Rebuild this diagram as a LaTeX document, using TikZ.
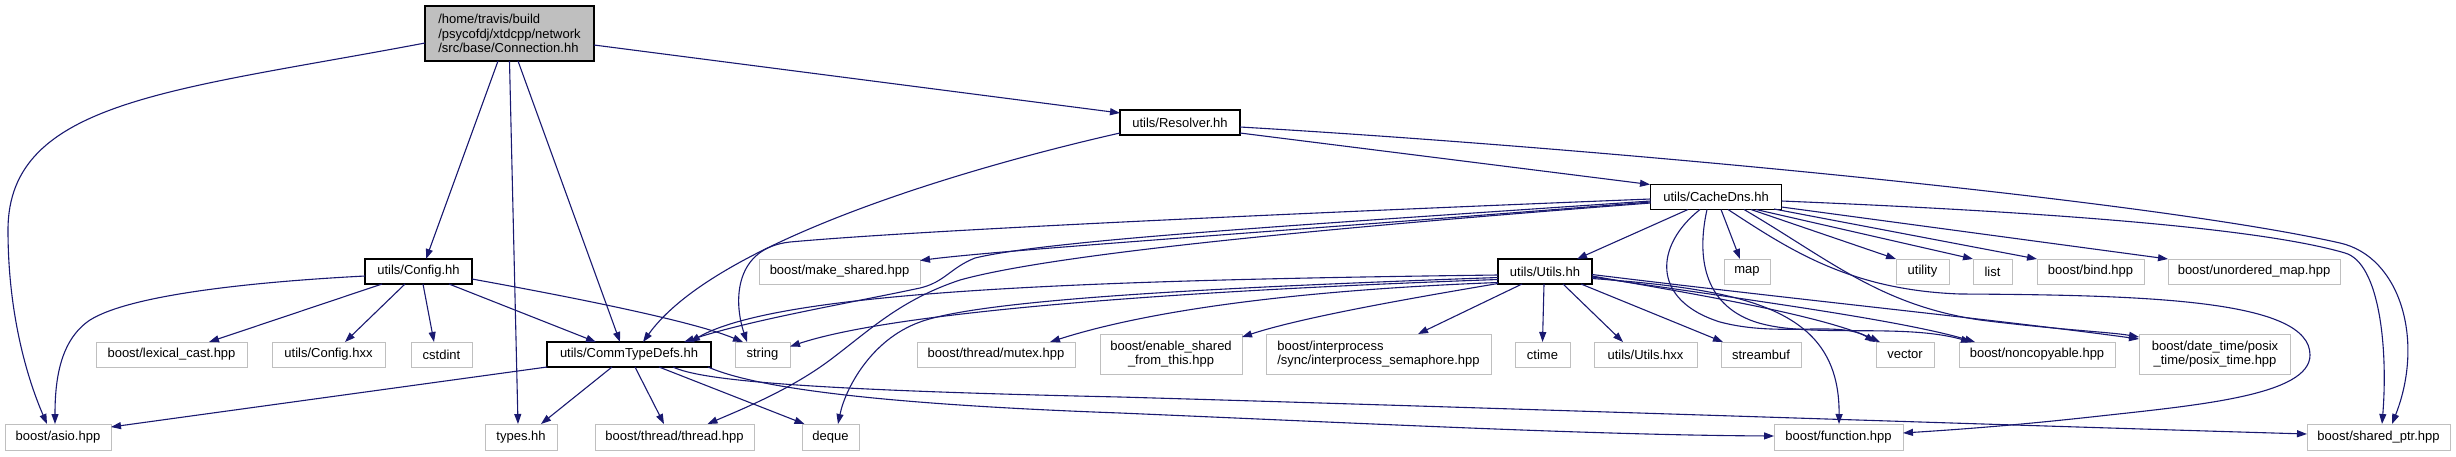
\documentclass[tikz,border=0pt]{standalone}
\usepackage{fontspec}
\setmainfont{Liberation Sans}
\usetikzlibrary{arrows.meta,calc}
\definecolor{edgec}{HTML}{191970}
\definecolor{lgray}{HTML}{BFBFBF}
\begin{document}
\begin{tikzpicture}[x=1pt,y=-1pt,
  box/.style={draw=lgray, line width=1pt, fill=white, inner sep=0pt,
    font=\fontsize{13}{14.5}\selectfont, minimum height=25pt},
  lowbox/.style={box, minimum height=26pt},
  docbox/.style={box, draw=black, line width=1.3pt},
  edge/.style={draw=edgec, line width=1.1pt, -{Triangle[length=10pt,width=7pt]}},
]
\useasboundingbox (0,0) rectangle (2456,456);

% nodes
\node[docbox, fill=lgray, minimum width=169pt, minimum height=55pt, align=left] (main) at (509.5,33.5)
  {/home/travis/build\\/psycofdj/xtdcpp/network\\/src/base/Connection.hh};
\node[docbox, minimum width=120pt] (resolver) at (1180,122.5) {utils/Resolver.hh};
\node[docbox, minimum width=131pt] (cachedns) at (1716,197) {utils/CacheDns.hh};
\node[docbox, minimum width=107pt] (config) at (418.5,271.5) {utils/Config.hh};
\node[box, minimum width=161pt] (makeshared) at (839.5,271.5) {boost/make\_shared.hpp};
\node[docbox, minimum width=94pt] (utils) at (1545,271.5) {utils/Utils.hh};
\node[box, minimum width=46pt] (map) at (1747,271.5) {map};
\node[box, minimum width=53pt] (utility) at (1922.5,271.5) {utility};
\node[box, minimum width=39pt] (list) at (1992.5,271.5) {list};
\node[box, minimum width=107pt] (bind) at (2090.5,271.5) {boost/bind.hpp};
\node[box, minimum width=172pt] (unordered) at (2254,271.5) {boost/unordered\_map.hpp};

\node[box, minimum width=151pt] (lexical) at (171.5,354.5) {boost/lexical\_cast.hpp};
\node[box, minimum width=113pt] (confighxx) at (328.5,354.5) {utils/Config.hxx};
\node[box, minimum width=61pt] (cstdint) at (441.5,354.5) {cstdint};
\node[docbox, minimum width=164pt] (commtype) at (629,354.5) {utils/CommTypeDefs.hh};
\node[box, minimum width=55pt] (string) at (762.5,354.5) {string};
\node[box, minimum width=158pt] (mutex) at (996,354.5) {boost/thread/mutex.hpp};
\node[box, minimum width=142pt, minimum height=40pt, align=center] (enable) at (1171,354)
  {boost/enable\_shared\\\_from\_this.hpp};
\node[box, minimum width=225pt, minimum height=40pt, align=left] (semaphore) at (1378.5,354)
  {boost/interprocess\\/sync/interprocess\_semaphore.hpp};
\node[box, minimum width=55pt] (ctime) at (1542.5,354.5) {ctime};
\node[box, minimum width=103pt] (utilshxx) at (1645.5,354.5) {utils/Utils.hxx};
\node[box, minimum width=80pt] (streambuf) at (1761,354.5) {streambuf};
\node[box, minimum width=58pt] (vector) at (1905,354.5) {vector};
\node[box, minimum width=156pt] (noncopyable) at (2037,354.5) {boost/noncopyable.hpp};
\node[box, minimum width=151pt, minimum height=40pt, align=center] (datetime) at (2215,354)
  {boost/date\_time/posix\\\_time/posix\_time.hpp};

\node[lowbox, minimum width=106pt] (asio) at (58,437) {boost/asio.hpp};
\node[lowbox, minimum width=72pt] (types) at (521,437) {types.hh};
\node[lowbox, minimum width=159pt] (thread) at (674.5,437) {boost/thread/thread.hpp};
\node[lowbox, minimum width=57pt] (deque) at (830.5,437) {deque};
\node[lowbox, minimum width=129pt] (function) at (1838.5,437) {boost/function.hpp};
\node[lowbox, minimum width=143pt] (sharedptr) at (2378.5,437) {boost/shared\_ptr.hpp};

% edges from main
\draw[edge] ($(main)+(-84.5,9.5)$) .. controls (175,90.5) and (8,100) .. (8,230)
  .. controls (8,320) and (30,385) .. ($(asio)+(-11,-13)$);
\draw[edge] ($(main)+(-11.5,27.5)$) -- ($(config)+(7.5,-12.5)$);
\draw[edge] ($(main)+(0,27.5)$) -- ($(types)+(-3,-13)$);
\draw[edge] ($(main)+(8.5,27.5)$) -- ($(commtype)+(-9,-12.5)$);
\draw[edge] ($(main)+(84.5,11.5)$) -- ($(resolver)+(-60,-9.5)$);

% edges from config
\draw[edge] ($(config)+(-53.5,4.5)$) .. controls (250,282) and (130,295) .. (90,320)
  .. controls (60,340) and (55,380) .. ($(asio)+(-3,-13)$);
\draw[edge] ($(config)+(-36.5,12.5)$) -- ($(lexical)+(37.5,-12.5)$);
\draw[edge] ($(config)+(-13.5,12.5)$) -- ($(confighxx)+(16.5,-12.5)$);
\draw[edge] ($(config)+(4.5,12.5)$) -- ($(cstdint)+(-7.5,-12.5)$);
\draw[edge] ($(config)+(30.5,12.5)$) -- ($(commtype)+(-33,-12.5)$);
\draw[edge] ($(config)+(53.5,7.5)$) .. controls (560,295) and (690,320) .. ($(string)+(-19.5,-12.5)$);

% edges from commtype
\draw[edge] ($(commtype)+(-82,12.5)$) -- ($(asio)+(53,-10)$);
\draw[edge] ($(commtype)+(-17,12.5)$) -- ($(types)+(20,-13)$);
\draw[edge] ($(commtype)+(6,12.5)$) -- ($(thread)+(-10.5,-13)$);
\draw[edge] ($(commtype)+(30,12.5)$) -- ($(deque)+(-26,-13)$);
\draw[edge] ($(commtype)+(44,12.5)$) .. controls (700,380) and (800,390) .. (1120,397)
  .. controls (1500,408) and (2000,425) .. ($(sharedptr)+(-71.5,-3)$);
\draw[edge] ($(commtype)+(79,12.5)$) .. controls (760,390) and (900,405) .. (1120,413)
  .. controls (1400,425) and (1600,435) .. ($(function)+(-64.5,-1)$);

% edges from resolver
\draw[edge] ($(resolver)+(-60,10.5)$) .. controls (1000,160) and (720,235) .. ($(commtype)+(14,-12.5)$);
\draw[edge] ($(resolver)+(60,10.5)$) -- ($(cachedns)+(-66,-12.5)$);
\draw[edge] ($(resolver)+(60,4.5)$) .. controls (1600,148) and (2150,200) .. (2340,243)
  .. controls (2400,256.6) and (2425,340) .. ($(sharedptr)+(13.5,-13)$);

% edges from cachedns
\draw[edge] ($(cachedns)+(-28,12.5)$) -- ($(utils)+(32,-12.5)$);
\draw[edge] ($(cachedns)+(5,12.5)$) -- ($(map)+(-7,-12.5)$);
\draw[edge] ($(cachedns)+(35,12.5)$) -- ($(utility)+(-26.5,-12.5)$);
\draw[edge] ($(cachedns)+(40,12.5)$) -- ($(list)+(-19.5,-12.5)$);
\draw[edge] ($(cachedns)+(58,12)$) -- ($(bind)+(-53.5,-12.5)$);
\draw[edge] ($(cachedns)+(65.5,10)$) -- ($(unordered)+(-86,-12.5)$);
\draw[edge] ($(cachedns)+(-65.5,2)$) .. controls (1200,217) and (900,232) .. (790,242)
  .. controls (735,248) and (733,300) .. ($(string)+(-15.5,-12.5)$);
\draw[edge] ($(cachedns)+(-65.5,5)$) .. controls (1300,230) and (1000,250) .. ($(makeshared)+(80.5,-11)$);
\draw[edge] ($(cachedns)+(-65.5,4)$) .. controls (1300,225) and (1050,240) .. (975,258)
  .. controls (950,268) and (945,282) .. (920,288)
  .. controls (850,303) and (750,320) .. ($(commtype)+(55,-12.5)$);
\draw[edge] ($(cachedns)+(-65.5,6)$) .. controls (1300,230) and (1050,255) .. (960,280)
  .. controls (900,300) and (870,330) .. (830,360)
  .. controls (790,390) and (740,410) .. ($(thread)+(33,-13)$);
\draw[edge] ($(cachedns)+(-16,12.5)$) .. controls (1655,245) and (1650,300) .. (1720,322)
  .. controls (1780,338) and (1840,320) .. ($(vector)+(-30,-12.5)$);
\draw[edge] ($(cachedns)+(-9,12.5)$) .. controls (1698,250) and (1700,300) .. (1750,320)
  .. controls (1800,340) and (1900,322) .. ($(noncopyable)+(-66,-12.5)$);
\draw[edge] ($(cachedns)+(12,12.5)$) .. controls (1790,250) and (1850,290) .. (1960,294)
  .. controls (2150,295) and (2310,300) .. (2310,355)
  .. controls (2310,395) and (2200,405) .. (2100,416)
  .. controls (2010,426) and (1950,430) .. ($(function)+(64.5,-4)$);
\draw[edge] ($(cachedns)+(28,12.5)$) .. controls (1830,260) and (1880,305) .. (1980,320)
  .. controls (2060,330) and (2110,332) .. ($(datetime)+(-76,-17)$);
\draw[edge] ($(cachedns)+(65.5,4)$) .. controls (2000,210) and (2250,225) .. (2345,253)
  .. controls (2380,263) and (2388,350) .. ($(sharedptr)+(3.5,-13)$);

% edges from utils
\draw[edge] ($(utils)+(-47,3.5)$) .. controls (1100,280) and (780,290) .. ($(commtype)+(61,-12.5)$);
\draw[edge] ($(utils)+(-47,6)$) .. controls (1200,288) and (980,300) .. (920,322)
  .. controls (870,340) and (845,390) .. ($(deque)+(7.5,-13)$);
\draw[edge] ($(utils)+(-47,8)$) .. controls (1200,290) and (900,310) .. ($(string)+(27.5,-8)$);
\draw[edge] ($(utils)+(-47,11)$) .. controls (1300,290) and (1150,310) .. ($(mutex)+(54,-12.5)$);
\draw[edge] ($(utils)+(-47,12)$) .. controls (1400,300) and (1300,318) .. ($(enable)+(71,-17)$);
\draw[edge] ($(utils)+(-23,12.5)$) -- ($(semaphore)+(39.5,-20)$);
\draw[edge] ($(utils)+(-1,12.5)$) -- ($(ctime)+(0,-12.5)$);
\draw[edge] ($(utils)+(18,12.5)$) -- ($(utilshxx)+(-22.5,-12.5)$);
\draw[edge] ($(utils)+(36,12.5)$) -- ($(streambuf)+(-38,-12.5)$);
\draw[edge] ($(utils)+(47,4.5)$) .. controls (1700,295) and (1820,315) .. ($(vector)+(-25,-12.5)$);
\draw[edge] ($(utils)+(47,5.5)$) .. controls (1750,300) and (1900,320) .. ($(noncopyable)+(-62,-12.5)$);
\draw[edge] ($(utils)+(47,3)$) .. controls (1800,300) and (2000,320) .. ($(datetime)+(-76,-15)$);
\draw[edge] ($(utils)+(47,7)$) .. controls (1750,290) and (1840,310) .. ($(function)+(0.5,-13)$);
\end{tikzpicture}
\end{document}
